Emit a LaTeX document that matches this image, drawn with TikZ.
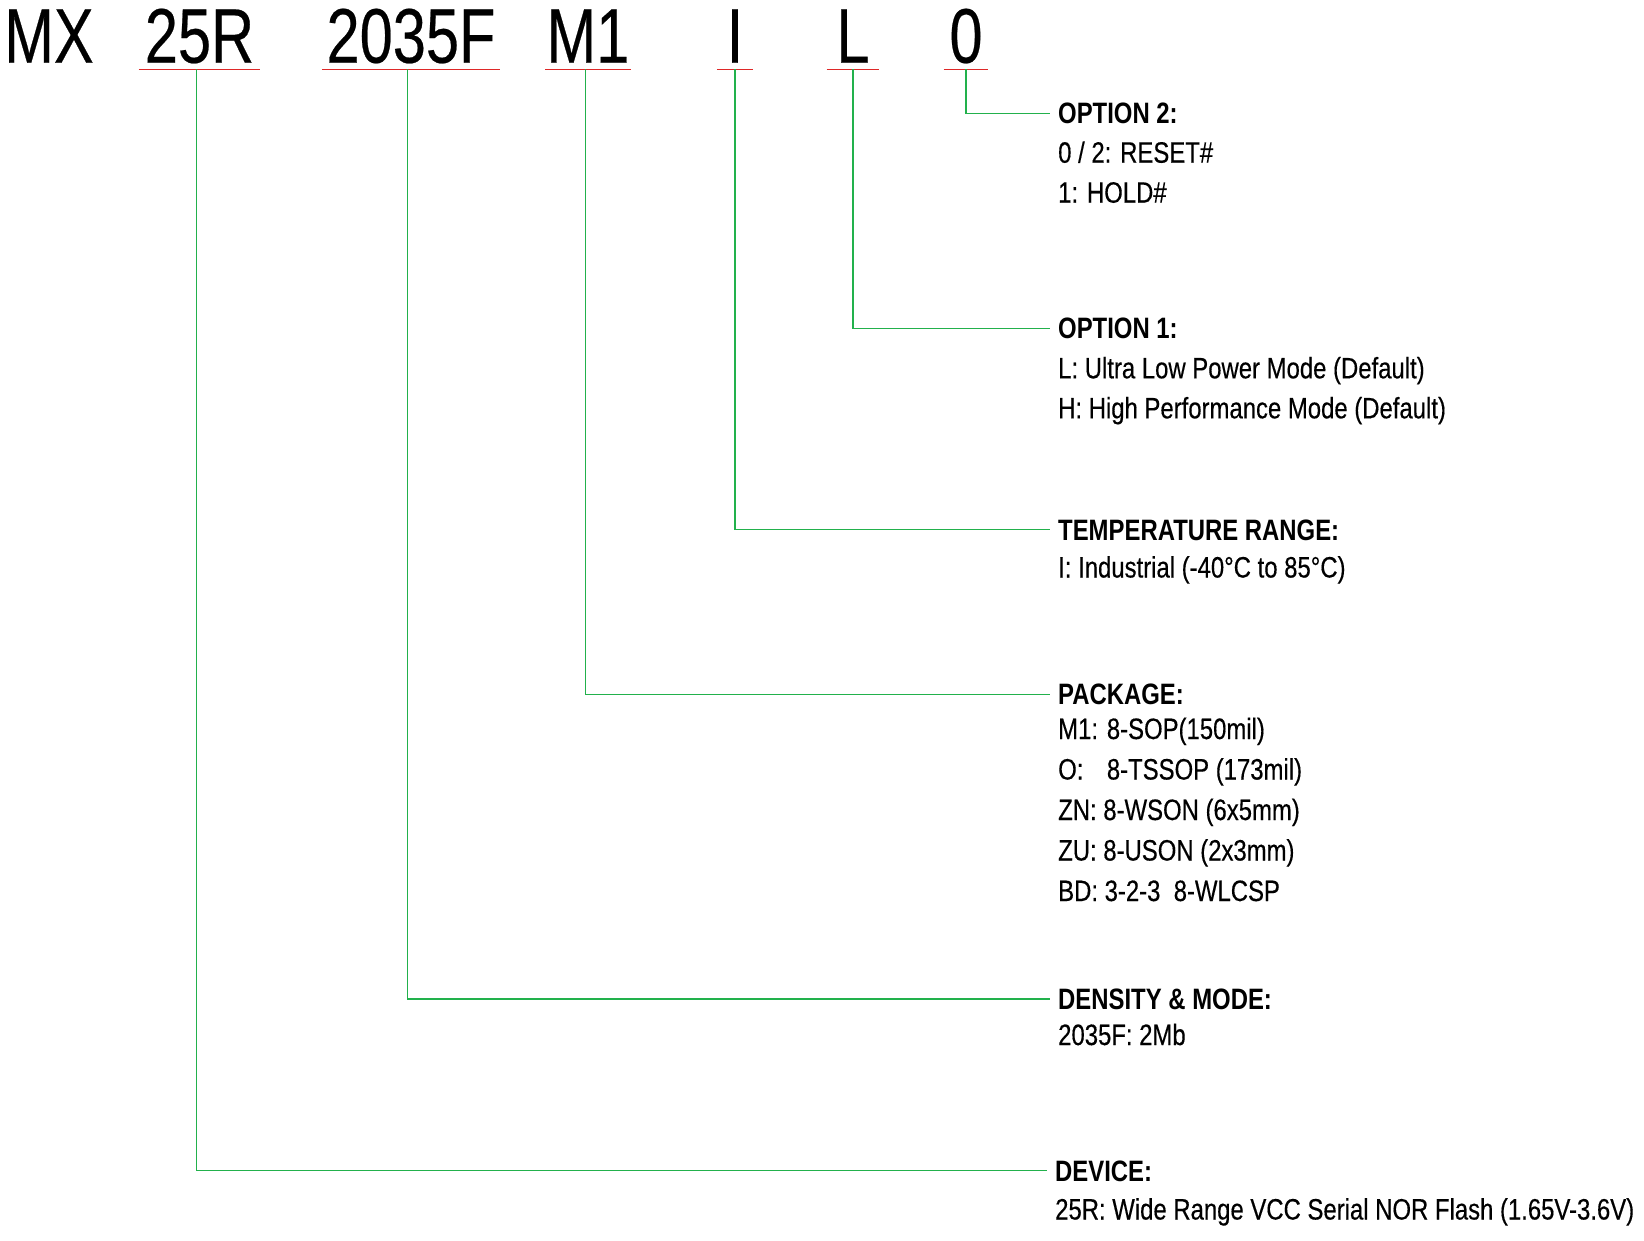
\documentclass[tikz,border=0pt]{standalone}
\usepackage{fontspec}
\setmainfont{Liberation Sans}[FakeStretch=0.81,UprightFeatures={FakeBold=0.35}]
\newfontfamily\bigfont{Liberation Sans}[FakeStretch=0.77,FakeBold=0.3]
\definecolor{lnred}{RGB}{222,40,40}
\definecolor{lngreen}{RGB}{34,177,76}
\begin{document}
\begin{tikzpicture}[x=1pt,y=-1pt,
  part/.style={anchor=base,inner sep=0pt,font=\bigfont\fontsize{77.4}{80}\selectfont},
  head/.style={anchor=west,inner sep=0pt,text height=21.1pt,text depth=0pt,font=\fontsize{29.5}{32}\selectfont\bfseries},
  body/.style={anchor=base west,inner sep=0pt,font=\fontsize{29.5}{32}\selectfont},
  uline/.style={draw=lnred,line width=1.5pt},
  conn/.style={draw=lngreen,line width=1.2pt}]
\useasboundingbox (0,0) rectangle (1644,1240);

% part number
\node[part] (pMX) at (49,62.7) {MX};
\node[part] (p25R) at (199.5,62.7) {25R};
\node[part] (pDen) at (411,62.7) {2035F};
\node[part] (pPkg) at (588,62.7) {M1};
\node[part] (pTmp) at (735,62.7) {I};
\node[part] (pOp1) at (853,62.7) {L};
\node[part] (pOp2) at (966,62.7) {0};

\newcommand\partline[2]{\draw[uline] ([xshift=-#2pt,yshift=-6.6pt]#1.base west) -- ([xshift=#2pt,yshift=-6.6pt]#1.base east);}
\partline{p25R}{5.9}
\partline{pDen}{4.5}
\partline{pPkg}{1}
\partline{pTmp}{9.7}
\partline{pOp1}{9.5}
\partline{pOp2}{5.5}

% OPTION 2
\node[head] (hOp2) at (1058,113.3) {OPTION 2:};
\node[body] (bOp2a) at (1058,162.7) {0 / 2: RESET\#};
\node[body] (bOp2b) at (1058,202.7) {1: HOLD\#};

% OPTION 1
\node[head] (hOp1) at (1058,328.3) {OPTION 1:};
\node[body] (bOp1a) at (1058,378.3) {L: Ultra Low Power Mode (Default)};
\node[body] (bOp1b) at (1058,418.3) {H: High Performance Mode (Default)};

% TEMPERATURE
\node[head] (hTmp) at (1058,529.5) {TEMPERATURE RANGE:};
\node[body] (bTmp) at (1058,577.5) {I: Industrial (-40°C to 85°C)};

% PACKAGE
\node[head] (hPkg) at (1058,694.3) {PACKAGE:};
\node[body] (bPkg1) at (1058,739) {M1: 8-SOP(150mil)};
\node[body] (bPkg2) at (1058,779.5) {\rlap{O:}\hphantom{M1: }8-TSSOP (173mil)};
\node[body] (bPkg3) at (1058,820) {ZN: 8-WSON (6x5mm)};
\node[body] (bPkg4) at (1058,860.5) {ZU: 8-USON (2x3mm)};
\node[body] (bPkg5) at (1058,901) {BD: 3-2-3\ \ 8-WLCSP};

% DENSITY
\node[head] (hDen) at (1058,999) {DENSITY \& MODE:};
\node[body] (bDen) at (1058,1045) {2035F: 2Mb};

% DEVICE
\node[head] (hDev) at (1055,1170.5) {DEVICE:};
\node[body] (bDev) at (1055,1219.5) {25R: Wide Range VCC Serial NOR Flash (1.65V-3.6V)};

% connectors
\draw[conn] ([yshift=-6.6pt]pOp2.base) |- ([xshift=-8pt]hOp2.west);
\draw[conn] ([yshift=-6.6pt]pOp1.base) |- ([xshift=-8pt]hOp1.west);
\draw[conn] ([yshift=-6.6pt]pTmp.base) |- ([xshift=-8pt]hTmp.west);
\draw[conn] ([xshift=-2.7pt,yshift=-6.6pt]pPkg.base) |- ([xshift=-8pt]hPkg.west);
\draw[conn] ([xshift=-3.7pt,yshift=-6.6pt]pDen.base) |- ([xshift=-8pt]hDen.west);
\draw[conn] ([xshift=-2.8pt,yshift=-6.6pt]p25R.base) |- ([xshift=-8pt]hDev.west);
\end{tikzpicture}
\end{document}
